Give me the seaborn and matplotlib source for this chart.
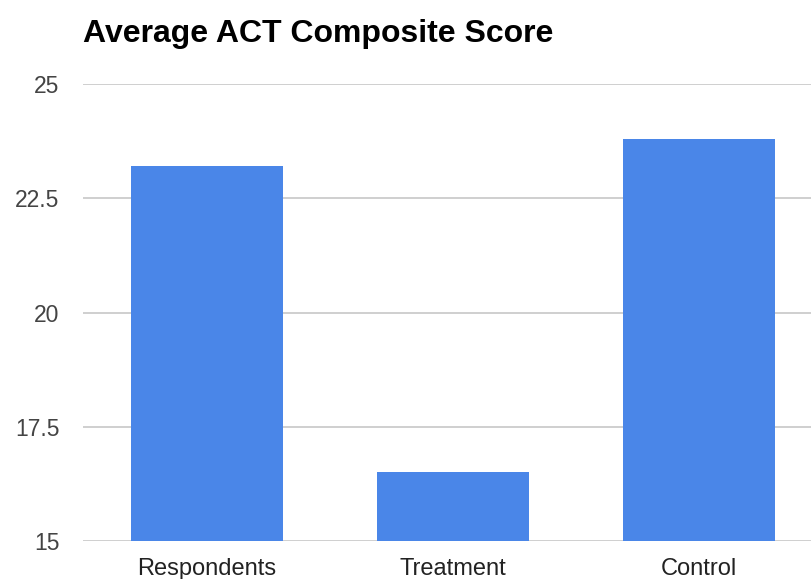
import matplotlib
matplotlib.use("Agg")
import matplotlib.pyplot as plt
import seaborn as sns
import pandas as pd

categories = ["Respondents", "Treatment", "Control"]
scores = [23.2, 16.5, 23.8]
yticks = [15, 17.5, 20, 22.5, 25]
ytick_labels = ["15", "17.5", "20", "22.5", "25"]

sns.set_theme(style="white")
plt.rcParams['font.family'] = ['Liberation Sans', 'DejaVu Sans']

df = pd.DataFrame({"group": categories, "score": scores})

fig = plt.figure(figsize=(8.12, 5.79), dpi=100)
ax = fig.add_axes([83/812, 1-541/579, 1-83/812, (541-84)/579])

sns.barplot(data=df, x="group", y="score", color="#4a86e8", saturation=1,
            width=0.618, ax=ax, zorder=3, linewidth=0)

ax.set_ylim(15, 25)
ax.set_xlim(-0.504, 2.459)
ax.set_yticks(yticks)
ax.set_yticklabels(ytick_labels)
ax.yaxis.grid(True, color="#cccccc", linewidth=1.3, zorder=0)
ax.set_axisbelow(True)
for s in ax.spines.values():
    s.set_visible(False)
ax.set_xlabel("")
ax.set_ylabel("")
ax.tick_params(axis="y", length=0, pad=17, labelsize=16.5, labelcolor="#444444")
ax.tick_params(axis="x", length=0, pad=12, labelsize=17, labelcolor="#222222")

fig.text(83/812, 1-42/579, "Average ACT Composite Score", fontsize=23,
         fontweight="bold", color="#000000", ha="left", va="baseline")

fig.savefig("out.png", dpi=100)
